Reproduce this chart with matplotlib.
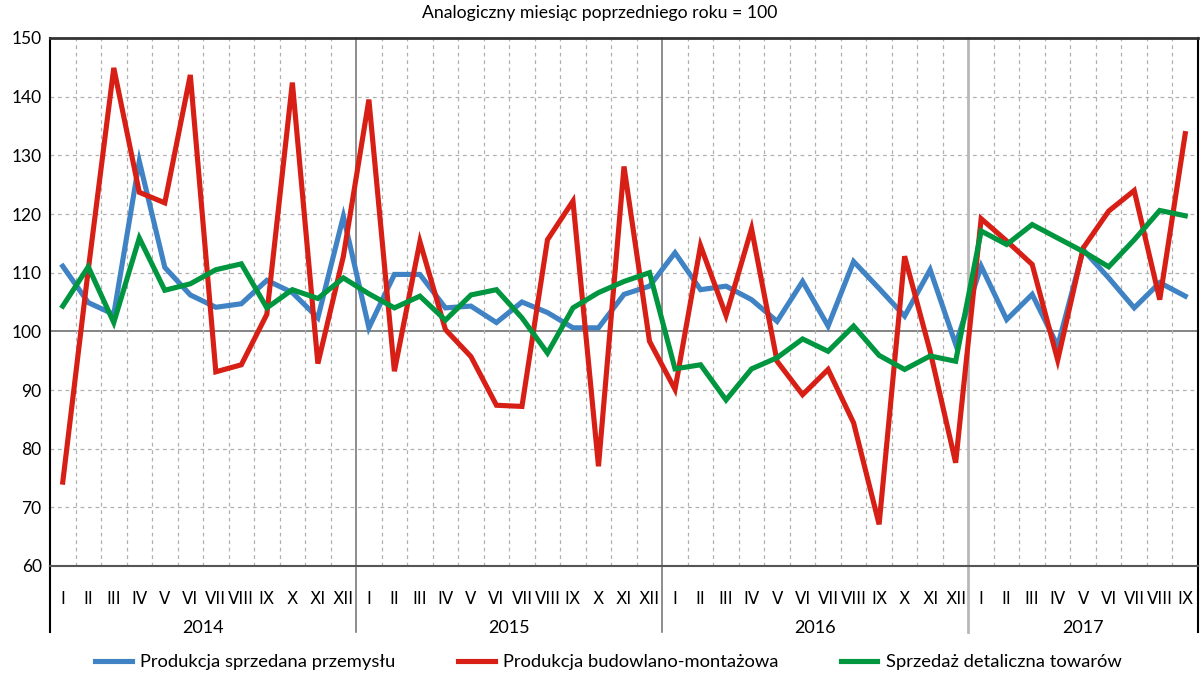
import matplotlib
matplotlib.use("Agg")
import matplotlib.pyplot as plt
import matplotlib.transforms as mtransforms
from matplotlib.lines import Line2D

title = "Analogiczny miesiąc poprzedniego roku = 100"
years = ["2014", "2015", "2016", "2017"]
months_per_year = [12, 12, 12, 9]
roman = ["I", "II", "III", "IV", "V", "VI", "VII", "VIII", "IX", "X", "XI", "XII"]

series_names = ["Produkcja sprzedana przemysłu",
                "Produkcja budowlano-montażowa",
                "Sprzedaż detaliczna towarów"]

przemysl = [111.1, 104.9, 102.9, 129.0, 110.9, 106.2, 104.1, 104.7, 108.7, 106.6, 102.3, 119.6,
            100.6, 109.7, 109.7, 104.0, 104.3, 101.5, 105.0, 103.2, 100.6, 100.6, 106.3, 107.7,
            113.4, 107.1, 107.7, 105.4, 101.7, 108.5, 100.9, 111.9, 107.3, 102.6, 110.5, 97.8,
            111.1, 102.0, 106.3, 97.5, 113.9, 109.1, 104.0, 108.3, 106.0]

budowlanka = [74.3, 110.5, 144.9, 123.7, 121.9, 143.7, 93.1, 94.3, 102.9, 142.4, 94.5, 112.8,
              139.5, 93.2, 115.3, 100.3, 95.7, 87.4, 87.2, 115.6, 122.2, 77.0, 128.1, 98.3,
              90.1, 114.6, 102.7, 117.5, 94.9, 89.2, 93.5, 84.4, 67.1, 112.8, 96.6, 77.6,
              119.2, 115.4, 111.4, 95.1, 114.2, 120.5, 124.0, 105.4, 133.7]

detal = [104.3, 111.0, 101.5, 115.9, 107.0, 108.1, 110.5, 111.5, 104.0, 107.1, 105.6, 109.1,
         106.4, 104.0, 106.0, 101.9, 106.2, 107.1, 102.3, 96.3, 104.0, 106.6, 108.5, 110.0,
         93.6, 94.3, 88.3, 93.6, 95.5, 98.7, 96.6, 100.9, 95.9, 93.5, 95.8, 94.9,
         117.1, 114.8, 118.2, 115.9, 113.6, 111.0, 115.6, 120.6, 119.7]

colors = ["#3F83C5", "#D71F16", "#009640"]

plt.rcParams['font.family'] = ['Lato', 'DejaVu Sans']

fig = plt.figure(figsize=(12, 6.74), dpi=100)
W, H = 1200, 674
ax = fig.add_axes([50 / W, 1 - 566 / H, (1198 - 50) / W, (566 - 38) / H])

month_labels = []
for n in months_per_year:
    month_labels += roman[:n]
n_tot = len(month_labels)
x = list(range(n_tot))

for vals, c in zip([przemysl, budowlanka, detal], colors):
    ax.plot(x, vals, color=c, lw=3.7, solid_joinstyle='miter', zorder=3)

ax.set_xlim(-0.5, n_tot - 0.5)
ax.set_ylim(60, 150)
ax.set_yticks(range(60, 151, 10))
ax.tick_params(axis='y', length=0, labelsize=12.5, pad=6)
ax.set_xticks(x)
ax.set_xticklabels(month_labels, family=['Liberation Sans Narrow', 'DejaVu Sans'], fontsize=12)
ax.tick_params(axis='x', length=0, pad=17)

# horizontal grid
for v in range(70, 151, 10):
    if v == 100:
        ax.axhline(v, color="#6f6f6f", lw=1.2, zorder=1)
    elif v < 150:
        ax.axhline(v, color="#b0b0b0", lw=0.9, ls=(0, (3, 3)), zorder=1)

# vertical grid & year separators
boundaries = []
acc = 0
for n in months_per_year[:-1]:
    acc += n
    boundaries.append(acc - 0.5)
trans = mtransforms.blended_transform_factory(ax.transData, ax.transAxes)
for i in range(n_tot - 1):
    b = i + 0.5
    if b in boundaries:
        ax.plot([b, b], [1, -0.125], transform=trans, color="#7a7a7a" if b != boundaries[-1] else "#b8b8b8",
                lw=1.2 if b != boundaries[-1] else 2.0, clip_on=False, zorder=2)
    else:
        ax.axvline(b, color="#b0b0b0", lw=0.9, ls=(0, (3, 3)), zorder=1)

# outer frame extensions
ax.plot([-0.5, -0.5], [0, -0.125], transform=trans, color="black", lw=1.5, clip_on=False)
ax.plot([n_tot - 0.5, n_tot - 0.5], [0, -0.125], transform=trans, color="black", lw=1.5, clip_on=False)

for s in ['left', 'right']:
    ax.spines[s].set_color('black')
    ax.spines[s].set_linewidth(1.5)
ax.spines['top'].set_color('#333333')
ax.spines['top'].set_linewidth(2)
ax.spines['bottom'].set_color('#555555')
ax.spines['bottom'].set_linewidth(1.5)

# year labels
start = 0
for yr, n in zip(years, months_per_year):
    ax.text(start + (n - 1) / 2, -0.118, yr, transform=trans, ha='center', va='center', fontsize=13)
    start += n

fig.text(0.5, 1 - 13 / H, title, ha='center', va='center', fontsize=12.7)

handles = [Line2D([], [], color=c, lw=3.7) for c in colors]
fig.legend(handles, series_names, loc='center', bbox_to_anchor=(0.507, 1 - 662 / H), ncol=3,
           frameon=False, fontsize=13.2, handlelength=2.0, columnspacing=3.4, handletextpad=0.45)

fig.savefig("out.png", dpi=100)
